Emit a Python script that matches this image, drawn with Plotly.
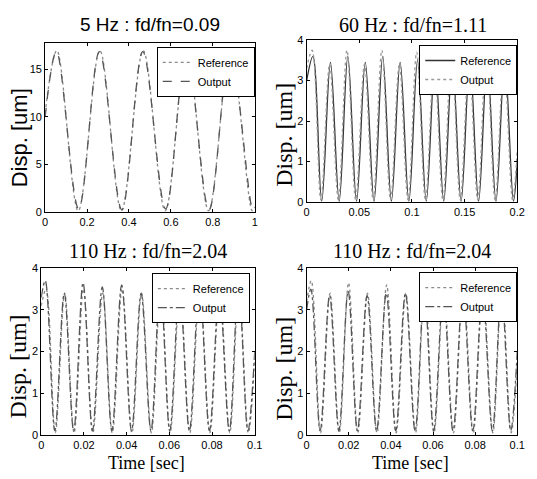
import plotly.graph_objects as go

# ---------------- data ----------------
# Panel 1: 5 Hz (t in s, displacement in um) - extrema + endpoints
p1_ref_t = [0, 0.056, 0.158, 0.261, 0.364, 0.468, 0.573, 0.676, 0.780, 0.884, 0.988, 1.0]
p1_ref_y = [10.4, 17.0, 0.1, 17.0, 0.1, 17.0, 0.1, 17.0, 0.1, 17.0, 0.1, 0.5]
p1_out_t = [0, 0.054, 0.160, 0.259, 0.366, 0.466, 0.575, 0.674, 0.782, 0.882, 0.990, 1.0]
p1_out_y = [10.0, 16.9, 0.3, 16.9, 0.2, 16.9, 0.3, 16.9, 0.2, 16.9, 0.3, 0.7]

# Panel 2: 60 Hz
p2_ref_t = [0, 0.0060, 0.0143, 0.0226, 0.0309, 0.0391, 0.0474, 0.0557, 0.0640, 0.0722,
            0.0805, 0.0888, 0.0971, 0.1053, 0.1136, 0.1219, 0.1302, 0.1384, 0.1467,
            0.1550, 0.1633, 0.1715, 0.1798, 0.1881, 0.1964, 0.2]
p2_ref_y = [3.0, 3.6, 0.02, 3.45, 0.02, 3.6, 0.02, 3.45, 0.02, 3.6, 0.02, 3.45, 0.02,
            3.5, 0.02, 3.5, 0.02, 3.5, 0.02, 3.5, 0.02, 3.5, 0.02, 3.5, 0.02, 1.0]
p2_out_t = [0, 0.0052, 0.0135, 0.0218, 0.0301, 0.0383, 0.0466, 0.0549, 0.0632, 0.0714,
            0.0797, 0.0880, 0.0963, 0.1045, 0.1128, 0.1211, 0.1294, 0.1376, 0.1459,
            0.1542, 0.1625, 0.1707, 0.1790, 0.1873, 0.1956, 0.2]
p2_out_y = [3.3, 3.75, 0.05, 3.4, 0.05, 3.75, 0.05, 3.4, 0.05, 3.75, 0.05, 3.4, 0.05,
            3.7, 0.05, 3.45, 0.05, 3.7, 0.05, 3.45, 0.05, 3.7, 0.05, 3.45, 0.05, 1.3]

# Panel 3: 110 Hz
p3_ref_t = [0, 0.0023, 0.0066, 0.0110, 0.0154, 0.0198, 0.0242, 0.0288, 0.0333, 0.0379,
            0.0425, 0.0470, 0.0516, 0.0560, 0.0604, 0.0650, 0.0696, 0.0743, 0.0790,
            0.0836, 0.0883, 0.0926, 0.0970, 0.1]
p3_ref_y = [3.1, 3.5, 0.05, 3.4, 0.05, 3.5, 0.05, 3.4, 0.05, 3.5, 0.05, 3.4, 0.05, 3.5,
            0.05, 3.45, 0.05, 3.5, 0.05, 3.45, 0.05, 3.5, 0.05, 1.8]
p3_out_t = [0, 0.0019, 0.0064, 0.0108, 0.0152, 0.0196, 0.0240, 0.0286, 0.0331, 0.0377,
            0.0423, 0.0468, 0.0514, 0.0558, 0.0602, 0.0648, 0.0694, 0.0741, 0.0788,
            0.0834, 0.0881, 0.0924, 0.0968, 0.1]
p3_out_y = [3.3, 3.7, 0.1, 3.4, 0.1, 3.65, 0.1, 3.55, 0.1, 3.6, 0.1, 3.4, 0.1, 3.6,
            0.1, 3.5, 0.1, 3.6, 0.1, 3.45, 0.1, 3.6, 0.1, 2.0]

# Panel 4: 110 Hz
p4_ref_t = [0, 0.0022, 0.0066, 0.0111, 0.0155, 0.0199, 0.0243, 0.0289, 0.0334, 0.0380,
            0.0425, 0.0471, 0.0517, 0.0561, 0.0605, 0.0651, 0.0697, 0.0744, 0.0791,
            0.0837, 0.0884, 0.0927, 0.0971, 0.1]
p4_ref_y = [3.2, 3.7, 0.05, 3.4, 0.05, 3.65, 0.05, 3.4, 0.05, 3.6, 0.05, 3.4, 0.05, 3.55,
            0.05, 3.45, 0.05, 3.55, 0.05, 3.45, 0.05, 3.55, 0.05, 1.7]
p4_out_t = [0, 0.0020, 0.0064, 0.0109, 0.0153, 0.0197, 0.0241, 0.0287, 0.0332, 0.0378,
            0.0423, 0.0469, 0.0515, 0.0559, 0.0603, 0.0649, 0.0695, 0.0742, 0.0789,
            0.0835, 0.0882, 0.0925, 0.0969, 0.1]
p4_out_y = [3.0, 3.5, 0.1, 3.35, 0.1, 3.45, 0.1, 3.35, 0.1, 3.4, 0.1, 3.4, 0.1, 3.45,
            0.1, 3.4, 0.1, 3.45, 0.1, 3.4, 0.1, 3.45, 0.1, 2.0]

titles = ["5 Hz : fd/fn=0.09", "60 Hz : fd/fn=1.11", "110 Hz : fd/fn=2.04", "110 Hz : fd/fn=2.04"]
series_names = ["Reference", "Output"]
x_ranges = [[0, 1], [0, 0.2], [0, 0.1], [0, 0.1]]
y_ranges = [[0, 17.8], [0, 4], [0, 4], [0, 4]]
x_ticks = [[0, 0.2, 0.4, 0.6, 0.8, 1], [0, 0.05, 0.1, 0.15, 0.2],
           [0, 0.02, 0.04, 0.06, 0.08, 0.1], [0, 0.02, 0.04, 0.06, 0.08, 0.1]]
x_ticktext = [["0", "0.2", "0.4", "0.6", "0.8", "1"], ["0", "0.05", "0.1", "0.15", "0.2"],
              ["0", "0.02", "0.04", "0.06", "0.08", "0.1"], ["0", "0.02", "0.04", "0.06", "0.08", "0.1"]]
y_ticks = [[0, 5, 10, 15], [0, 1, 2, 3, 4], [0, 1, 2, 3, 4], [0, 1, 2, 3, 4]]

# ---------------- layout (pixel geometry) ----------------
W, H = 537, 479
boxes = [(43, 257, 38, 211), (310, 525, 35, 201), (39, 257, 269, 440), (310, 525, 269, 440)]
legend_pos = [(257, 42), (525, 40), (252, 274), (525, 273)]
ylab_x = [17, 287, 15, 287]
ylab_y = [135, 132, 370, 372]
title_y = [19, 19, 251, 251]
title_x = [150, 419, 148, 418]
time_x = [146, 416]
serif = "Liberation Serif, Times New Roman, serif"
sans = "Liberation Sans, Arial, sans-serif"
title_fonts = [(sans, 19), (serif, 20), (serif, 20), (serif, 20)]
ylab_fonts = [(sans, 22), (serif, 24), (serif, 24), (serif, 24)]

data = [
    ((p1_ref_t, p1_ref_y), (p1_out_t, p1_out_y)),
    ((p2_ref_t, p2_ref_y), (p2_out_t, p2_out_y)),
    ((p3_ref_t, p3_ref_y), (p3_out_t, p3_out_y)),
    ((p4_ref_t, p4_ref_y), (p4_out_t, p4_out_y)),
]
styles = [
    (dict(color="#8a8a8a", dash="dot", width=1.3), dict(color="#555555", dash="dash", width=1.3)),
    (dict(color="#333333", dash="solid", width=1.3), dict(color="#9a9a9a", dash="dot", width=1.3)),
    (dict(color="#8a8a8a", dash="dot", width=1.3), dict(color="#555555", dash="dashdot", width=1.3)),
    (dict(color="#8a8a8a", dash="dot", width=1.3), dict(color="#555555", dash="dashdot", width=1.3)),
]

fig = go.Figure()
annotations = []
layout = {}
for i in range(4):
    xa = "x" if i == 0 else f"x{i+1}"
    ya = "y" if i == 0 else f"y{i+1}"
    leg = "legend" if i == 0 else f"legend{i+1}"
    for k in range(2):
        t, y = data[i][k]
        fig.add_trace(go.Scatter(
            x=t, y=y, mode="lines", name=series_names[k],
            line=dict(shape="spline", smoothing=1.0, **styles[i][k]),
            xaxis=xa, yaxis=ya, legend=leg, showlegend=True))
    x0, x1, y0, y1 = boxes[i]
    common = dict(showline=True, linecolor="black", linewidth=1, mirror="ticks",
                  ticks="inside", ticklen=3, tickcolor="black", showgrid=False, zeroline=False,
                  tickfont=dict(family=sans, size=11, color="black"))
    layout["xaxis" if i == 0 else f"xaxis{i+1}"] = dict(
        domain=[x0 / W, x1 / W], range=x_ranges[i], anchor=ya,
        tickvals=x_ticks[i], ticktext=x_ticktext[i], **common)
    layout["yaxis" if i == 0 else f"yaxis{i+1}"] = dict(
        domain=[1 - y1 / H, 1 - y0 / H], range=y_ranges[i], anchor=xa,
        tickvals=y_ticks[i], **common)
    lx, ly = legend_pos[i]
    layout[leg] = dict(x=lx / W, y=1 - ly / H, xanchor="right", yanchor="top",
                       bgcolor="white", bordercolor="black", borderwidth=1,
                       font=dict(family=sans, size=11, color="black"),
                       tracegroupgap=0, itemwidth=30)
    annotations.append(dict(x=title_x[i] / W, y=1 - title_y[i] / H, xref="paper", yref="paper",
                            text=titles[i], showarrow=False,
                            font=dict(family=title_fonts[i][0], size=title_fonts[i][1], color="black"),
                            xanchor="center", yanchor="middle"))
    annotations.append(dict(x=ylab_x[i] / W, y=1 - ylab_y[i] / H, xref="paper", yref="paper",
                            text="Disp. [um]", showarrow=False, textangle=-90,
                            font=dict(family=ylab_fonts[i][0], size=ylab_fonts[i][1], color="black"),
                            xanchor="center", yanchor="middle"))
    if i >= 2:
        annotations.append(dict(x=time_x[i - 2] / W, y=1 - 469 / H, xref="paper", yref="paper",
                                text="Time [sec]", showarrow=False,
                                font=dict(family=serif, size=18, color="black"),
                                xanchor="center", yanchor="middle"))

fig.update_layout(width=W, height=H, margin=dict(l=0, r=0, t=0, b=0),
                  paper_bgcolor="white", plot_bgcolor="white",
                  annotations=annotations, **layout)
fig.write_html("out.html")
